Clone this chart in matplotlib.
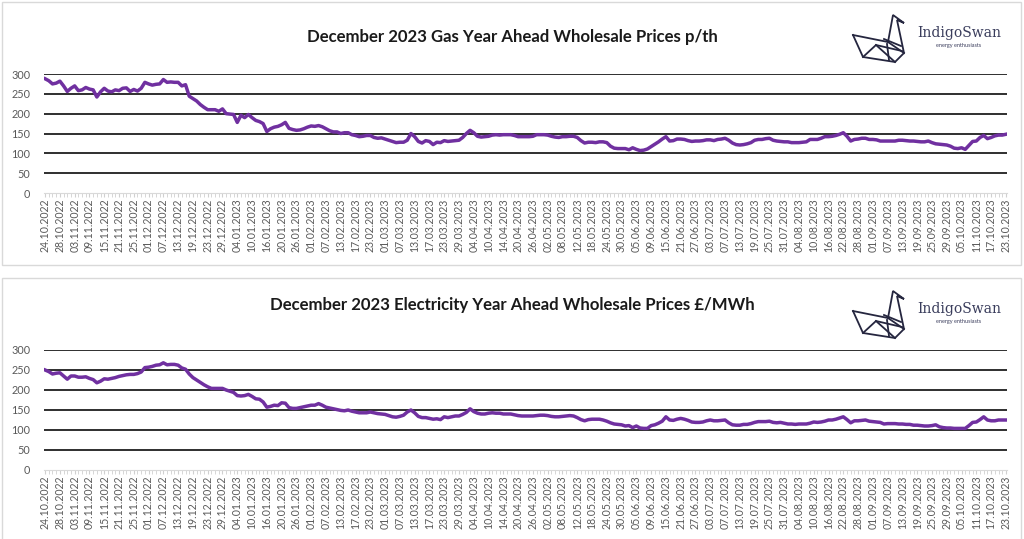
import matplotlib
matplotlib.use('Agg')
import matplotlib.pyplot as plt
import pandas as pd
from matplotlib.lines import Line2D
from matplotlib.patches import Rectangle

# business days, one value per day
dates = pd.bdate_range('2022-10-24', '2023-10-23')
labels = dates.strftime('%d.%m.%Y')

gas = [
    288, 283, 275, 277, 282, 270, 256, 264, 270, 258,
    260, 266, 262, 260, 242, 255, 264, 257, 255, 260,
    258, 264, 265, 256, 261, 257, 264, 279, 275, 272,
    274, 275, 286, 279, 280, 279, 279, 270, 273, 244,
    238, 232, 223, 216, 210, 210, 210, 206, 212, 200,
    199, 198, 178, 196, 190, 198, 190, 183, 180, 175,
    155, 162, 166, 168, 172, 178, 163, 160, 158, 159,
    162, 166, 169, 168, 170, 167, 162, 157, 154, 154,
    150, 152, 152, 147, 145, 142, 143, 145, 145, 140,
    138, 139, 136, 133, 130, 127, 128, 128, 133, 150,
    142, 130, 126, 132, 130, 122, 128, 127, 132, 130,
    131, 132, 133, 140, 150, 158, 152, 143, 141, 142,
    143, 146, 147, 146,
    147, 147, 147, 145, 142, 142, 142, 142, 143, 147,
    147, 147, 146, 143, 141, 140, 142, 142, 143, 143,
    140, 132, 126, 128, 128, 127, 129, 129, 127, 118,
    113, 112, 112, 112, 109, 114, 110, 107, 108, 111,
    117, 123, 129, 136, 142, 131, 132, 136, 136, 135,
    132,
    130, 131, 131, 132, 134, 134, 132, 135, 136, 138,
    133, 126, 122, 121, 122, 124, 127, 133, 135, 135,
    137, 138, 133, 131, 130, 129, 129, 127, 127, 127,
    128, 129, 135, 135, 135, 138, 142, 142, 143, 145,
    148, 152, 143, 131, 135, 136, 138, 138, 135, 135,
    134, 131, 131, 131, 131, 131, 133, 133, 132, 131,
    131, 130, 129, 129, 131, 127, 124, 123, 122, 121,
    118, 113, 112, 114, 110, 120, 130, 131, 140, 145,
    137, 140, 144, 146, 146, 148,
]

elec = [
    250, 246, 240, 242, 243, 235, 227, 235, 235, 232,
    232, 233, 229, 226, 218, 222, 228, 227, 229, 231,
    234, 236, 238, 239, 239, 241, 245, 256, 257, 259,
    262, 263, 268, 263, 264, 264, 262, 255, 252, 240,
    231, 225, 219, 213, 208, 204, 204, 204, 204, 200,
    197, 194, 186, 185, 186, 189, 184, 178, 177, 170,
    157, 159, 162, 161, 168, 167, 156, 154, 154, 156,
    158, 160, 162, 162, 166, 162, 157, 155, 153, 151,
    149, 148, 150, 147, 145, 143, 143, 143, 145, 143,
    141, 140, 139, 136, 133, 132, 134, 137, 145, 150,
    143, 134, 131, 131, 129, 127, 128, 126, 133, 131,
    133, 135, 135, 139, 144, 153, 146, 142, 140, 140,
    142, 143, 142, 142,
    140, 140, 140, 138, 136, 135, 135, 135, 135, 136,
    137, 137, 136, 134, 133, 133, 134, 135, 136, 135,
    131, 126, 123, 126, 127, 127, 127, 125, 122, 118,
    115, 114, 113, 110, 111, 106, 110, 105, 104, 104,
    111, 113, 117, 122, 133, 125, 124, 127, 129, 127,
    124,
    120, 119, 119, 120, 123, 125, 123, 123, 124, 125,
    118, 113, 112, 112, 114, 114, 116, 119, 121, 121,
    121, 122, 119, 118, 119, 117, 115, 115, 114, 115,
    115, 115, 117, 120, 119, 120, 122, 125, 125, 127,
    130, 133, 126, 118, 123, 123, 124, 125, 122, 121,
    120, 119, 115, 116, 116, 116, 115, 115, 114, 114,
    112, 112, 111, 110, 110, 111, 113, 108, 106, 105,
    105, 104, 104, 104, 104, 111, 119, 120, 126, 133,
    125, 123, 123, 125, 125, 125,
]

titles = ['December 2023 Gas Year Ahead Wholesale Prices p/th',
          'December 2023 Electricity Year Ahead Wholesale Prices £/MWh']

W, H = 1024, 539
fig = plt.figure(figsize=(W / 100, H / 100), dpi=100)
plt.rcParams['font.family'] = ['Lato', 'DejaVu Sans']

# swan logo outline (pixels, top panel)
swan = [
    [(853, 35), (863, 57), (895, 62), (904, 53), (897, 20), (904, 23), (893, 15), (888, 42)],
    [(853, 35), (888, 42), (904, 53)],
    [(863, 57), (876, 45), (895, 62)],
    [(876, 45), (902, 51)],
    [(884, 39), (901, 46)],
    [(887, 44), (889, 60)],
]


def fx(x):
    return x / W


def fy(y):
    return 1 - y / H


def panel(vals, title, off, y300, y0, ty):
    fig.add_artist(Rectangle((fx(2), fy(265 + off)), fx(1019), 263 / H,
                             transform=fig.transFigure, fill=False,
                             ec='#d9d9d9', lw=1))
    ax = fig.add_axes([fx(44), fy(y0), fx(963), (y0 - y300) / H])
    ax.plot(range(len(vals)), vals, color='#7030A0', lw=2.5,
            solid_joinstyle='round')
    ax.set_ylim(0, 300)
    ax.set_yticks(range(0, 301, 50))
    ax.set_xlim(-0.3, len(vals) - 0.7)
    ax.set_xticks(range(0, len(vals), 4))
    ax.set_xticklabels(labels[::4], rotation=90, fontsize=7.6, color='#595959')
    ax.set_xticks(range(len(vals)), minor=True)
    ax.tick_params(axis='x', which='both', length=3, color='#d0d0d0', pad=1)
    ax.tick_params(axis='y', length=0, labelsize=7.8, labelcolor='#595959', pad=10)
    ax.grid(axis='y', color='#1f1f1f', lw=1.3)
    ax.get_ygridlines()[0].set_visible(False)
    ax.set_axisbelow(True)
    for s in ['top', 'right', 'left']:
        ax.spines[s].set_visible(False)
    ax.spines['bottom'].set_color('#d9d9d9')

    fig.text(0.5, fy(ty), title, ha='center', va='center',
             fontsize=12.1, fontweight='bold', color='#1a1a1a')

    for seg in swan:
        xs = [fx(p[0]) for p in seg]
        ys = [fy(p[1] + off) for p in seg]
        fig.add_artist(Line2D(xs, ys, transform=fig.transFigure,
                              color='#25263f', lw=1.3, solid_joinstyle='miter'))
    fig.text(fx(959), fy(33 + off), 'IndigoSwan', ha='center', va='center',
             fontsize=10, color='#3a3d5c', family='DejaVu Serif')
    fig.text(fx(959), fy(46 + off), 'energy enthusiasts', ha='center',
             va='center', fontsize=4, color='#3a3d5c')


panel(gas, titles[0], 0, 74, 193, 37)
panel(elec, titles[1], 276, 350, 470, 305)

fig.savefig('out.png', dpi=100)
